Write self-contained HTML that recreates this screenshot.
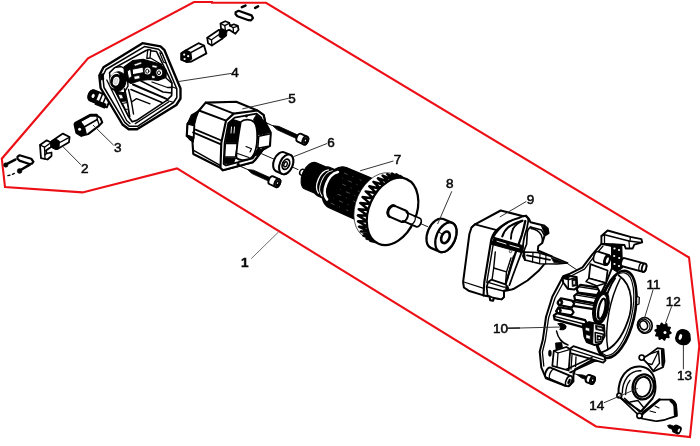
<!DOCTYPE html>
<html><head><meta charset="utf-8">
<style>
html,body{margin:0;padding:0;background:#fff;}
body{width:700px;height:446px;overflow:hidden;font-family:"Liberation Sans",sans-serif;}
svg{display:block}
.lbl{font-family:"Liberation Sans",sans-serif;font-size:13.5px;fill:#0a0a0a;stroke:#0a0a0a;stroke-width:0.55;}
.ld{stroke:#2a2a2a;stroke-width:0.95;fill:none}
.k{stroke:#000;fill:none;stroke-linejoin:round;stroke-linecap:round}
.w{stroke:#000;fill:#fff;stroke-linejoin:round;stroke-linecap:round}
.b{fill:#000;stroke:#000;stroke-linejoin:round}
.g{stroke:#fff;fill:none;stroke-linecap:round}
</style></head><body>
<svg width="700" height="446" viewBox="0 0 700 446">
<defs><filter id="bl" x="-2%" y="-2%" width="104%" height="104%"><feGaussianBlur stdDeviation="0.32"/></filter></defs>
<rect width="700" height="446" fill="#fff"/>
<path d="M194 2 L212 2 L212 2.8 L266 2.8 L689 257.5 L699.3 346 L690 437 L596 426.5 L177 168.4 L82.5 192.4 L5 187 L1.8 158.7 L88 58.3 Z" fill="none" stroke="#ec1016" stroke-width="2.1" stroke-linejoin="miter"/>
<g filter="url(#bl)">
<g transform="translate(391.8 211.1) rotate(23.46)">
<ellipse cx="-97.6" cy="0" rx="2.5" ry="3.1" class="w" stroke-width="1.42"/>
<path class="b" stroke-width="1.18" d="M-88.5 -14.3 L-72 -14.3 L-72 14.3 L-88.5 14.3 A8.3 14.3 0 0 1 -88.5 -14.3Z"/>
<path class="b" stroke-width="1.18" d="M-74 -15.5 L-62 -15.5 L-62 15.5 L-74 15.5 A9 15.5 0 0 1 -74 -15.5Z"/>
<path class="b" stroke-width="1.18" d="M-59 -21.8 L-8 -22.6 L-8 22.6 L-59 21.8 A14.4 21.8 0 0 1 -59 -21.8Z"/>
<path class="g" stroke-width="1.30" d="M-74.5 -12.5 A8.5 13.5 0 0 0 -74.5 12.8"/>
<path class="g" stroke-width="2.60" d="M-65 -14.3 A11 16.2 0 0 0 -64 15.2"/>
<path class="g" stroke-width="0.94" d="M-70.5 -13.5 A9 14.5 0 0 0 -70 14"/>
<path d="M-60 -16 L-16 -16" stroke="#777" stroke-width="0.59" stroke-dasharray="2 6 4 5 1 7" stroke-dashoffset="7" fill="none"/>
<path d="M-58.6 -10.5 L-16 -10.5" stroke="#777" stroke-width="0.59" stroke-dasharray="2 6 4 5 1 7" stroke-dashoffset="1.5" fill="none"/>
<path d="M-57.2 -5 L-16 -5" stroke="#777" stroke-width="0.59" stroke-dasharray="2 6 4 5 1 7" stroke-dashoffset="7" fill="none"/>
<path d="M-56.1 0.5 L-16 0.5" stroke="#777" stroke-width="0.59" stroke-dasharray="2 6 4 5 1 7" stroke-dashoffset="1.5" fill="none"/>
<path d="M-57.5 6 L-16 6" stroke="#777" stroke-width="0.59" stroke-dasharray="2 6 4 5 1 7" stroke-dashoffset="7" fill="none"/>
<path d="M-58.9 11.5 L-16 11.5" stroke="#777" stroke-width="0.59" stroke-dasharray="2 6 4 5 1 7" stroke-dashoffset="1.5" fill="none"/>
<path d="M-60.2 17 L-16 17" stroke="#777" stroke-width="0.59" stroke-dasharray="2 6 4 5 1 7" stroke-dashoffset="7" fill="none"/>
<ellipse cx="-13.2" cy="0" rx="23.8" ry="34.6" fill="#fff" stroke="#000" stroke-width="0.59"/>
<path class="k" stroke-width="2.48" stroke-linejoin="miter" d="M-3.7 34.9 L3.5 33.8 L-7.9 35.7 L-0.6 33.9 L-12.2 35.3 L-4.7 33 L-16.4 33.7 L-8.6 31 L-20.4 31 L-12.2 27.9 L-23.9 27.3 L-15.4 24 L-26.9 22.8 L-18 19.2 L-29.4 17.4 L-20 13.8 L-31.1 11.5 L-21.4 8 L-32.1 5.2 L-22 1.9 L-32.4 -1.2 L-21.8 -4.3 L-31.8 -7.7 L-20.9 -10.3 L-30.5 -13.8 L-19.3 -16 L-28.5 -19.5 L-17.1 -21.1 L-25.8 -24.6 L-14.2 -25.6 L-22.6 -28.9 L-10.9 -29.2 L-18.9 -32.2 L-7.1 -31.9 L-14.8 -34.5 L-3.2 -33.5 L-10.6 -35.6 L1 -34 L-6.3 -35.5 L5.1 -33.4 L-2 -34.3"/>
<ellipse cx="0.8" cy="0" rx="23.6" ry="35.2" class="w" stroke-width="2.24"/>
<path class="w" stroke-width="2.01" d="M0 -6 L13 -6 A4 6 0 0 1 13 6 L0 6 A4 6 0 0 1 0 -6Z"/>
<path class="k" stroke-width="2.60" d="M0.6 -6 A4 6 0 0 0 0.6 6"/>
<path class="w" stroke-width="1.77" d="M14 -4.6 L28.5 -4.6 A3 4.6 0 0 1 28.5 4.6 L14 4.6 A3 4.6 0 0 0 14 -4.6Z"/>
<path class="k" stroke-width="1.30" d="M22 -4.6 A3 4.6 0 0 1 22 4.6"/>
<path class="k" stroke-width="0.94" d="M31.5 0 L39 0"/>
</g>
<g transform="translate(445.9 237.3) rotate(23.46)">
<path class="w" stroke-width="2.24" d="M-9.6 -15.7 L0 -15.7 A9.4 15.7 0 0 1 0 15.7 L-9.6 15.7 A9.4 15.7 0 0 1 -9.6 -15.7Z"/><ellipse cx="0" cy="0" rx="9.4" ry="15.7" class="w" stroke-width="2.24"/>
<ellipse cx="-0.4" cy="0.2" rx="3.9" ry="6.1" class="w" stroke-width="2.60"/>
<path class="k" stroke-width="0.94" d="M-9 -2 L-4.5 -1.5"/>
</g>
<g transform="translate(286.2 164.4) rotate(23.46)">
<path class="k" stroke-width="0.94" d="M-27 0 L-14 0 M7 0 L13 0"/>
<path class="w" stroke-width="2.01" d="M-6.5 -10.3 L0 -10.3 A6.4 10.3 0 0 1 0 10.3 L-6.5 10.3 A6.4 10.3 0 0 1 -6.5 -10.3Z"/><ellipse cx="0" cy="0" rx="6.4" ry="10.3" class="w" stroke-width="2.01"/>
<ellipse cx="-0.3" cy="0" rx="3.4" ry="5.3" class="w" stroke-width="1.77"/>
<ellipse cx="-0.6" cy="0.2" rx="1.6" ry="2.6" class="w" stroke-width="1.42"/>
</g>
<g transform="translate(272.5 125.6) rotate(24.4)">
<path class="k" stroke-width="0.94" d="M-7 0 L0 0"/>
<path class="b" stroke-width="0.71" d="M0 0 L6 -1.9 L29.5 -1.9 L29.5 1.9 L6 1.9 Z"/>
<path class="w" stroke-width="1.89" d="M29.5 -4.3 L36 -4.3 A2.6 4.3 0 0 1 36 4.3 L29.5 4.3 A2.6 4.3 0 0 1 29.5 -4.3Z"/><ellipse cx="36" cy="0" rx="2.6" ry="4.3" class="w" stroke-width="1.89"/>
<ellipse cx="36.2" cy="0" rx="1.9" ry="3.2" class="b" stroke-width="0.59"/>
<ellipse cx="36.2" cy="0" rx="0.6" ry="1" fill="#fff"/>
</g><g transform="translate(247.3 169.4) rotate(24.4)">
<path class="k" stroke-width="0.94" d="M-7 0 L0 0"/>
<path class="b" stroke-width="0.71" d="M0 0 L6 -1.9 L26.5 -1.9 L26.5 1.9 L6 1.9 Z"/>
<path class="w" stroke-width="1.89" d="M26.5 -4.3 L33 -4.3 A2.6 4.3 0 0 1 33 4.3 L26.5 4.3 A2.6 4.3 0 0 1 26.5 -4.3Z"/><ellipse cx="33" cy="0" rx="2.6" ry="4.3" class="w" stroke-width="1.89"/>
<ellipse cx="33.2" cy="0" rx="1.9" ry="3.2" class="b" stroke-width="0.59"/>
<ellipse cx="33.2" cy="0" rx="0.6" ry="1" fill="#fff"/>
</g>
<g>
<path class="w" stroke-width="2.12" d="M205.7 102.6 L236.2 101.7 L257.4 110.5 L263.7 115.2 L265.2 122.3 L270.7 132.5 L270 145.8 L262.9 149.7 L255 160 L252.7 162.3 L222.8 170.2 L220.5 167.8 L193.3 154 L192.4 140.7 L186.7 136 L187.6 123.6 L193 117 L199 110.5Z" />
<path class="b" stroke-width="1.18" d="M199 110.5 L191.4 115 L187.6 123.6 L194.3 125.5 L196.2 117.9Z" />
<path class="w" stroke-width="1.89" d="M187.6 123.6 L194.3 125.5 L193.7 137.9 L186.9 135.4Z" />
<path class="b" stroke-width="1.18" d="M186.9 135.4 L193.7 137.9 L193.3 141.9 L189.5 139.4Z" />
<path class="k" stroke-width="1.89" d="M205.7 102.6 L233.8 113.6" />
<path class="k" stroke-width="1.89" d="M199 110.5 L226 120.7" />
<path class="k" stroke-width="1.77" d="M195.5 129.6 L222.6 141" />
<path class="k" stroke-width="1.77" d="M193 132.4 L221.6 144.6" />
<path class="k" stroke-width="1.53" d="M193.6 150.3 L220.6 165.6" />
<path class="w" stroke-width="2.12" d="M233.8 113.6 L257.4 110.5 L263.7 115.2 L265.2 122.3 L262.9 149.7 L255 160 L252.7 162.3 L222.8 170.2 L220.5 167.8 L221.3 142.7 L226 120.7Z" />
<path class="w" stroke-width="1.77" d="M234.6 117.6 L256.6 113.6 L261.3 117.6 L262.1 122.3 L260 147 L252.7 158.4 L226 165.4 L223.6 163.9 L224.6 142.7 L228.3 123.1Z" />
<path class="b" stroke-width="0.94" d="M228.6 123.5 L233 119.5 L240.5 121.8 L238 142.5 L225.6 142.6Z" />
<path class="w" stroke-width="1.42" d="M225.4 143.6 L237.6 143.6 L235.5 157 L224.6 156.6Z" />
<path class="b" stroke-width="0.94" d="M224.4 157.6 L235.5 158 L233.5 163.2 L224.6 163.6Z" />
<path class="g" stroke-width="0.94" d="M231.5 127 L231 133 M234.5 127 L234 133"/>
<path class="b" stroke-width="0.94" d="M253.5 119.5 L256.5 114.5 L265 121.5 L270.7 132.5 L258.5 135 L256 126Z" />
<path class="w" stroke-width="1.53" d="M258.7 136.2 L270.6 133.8 L269.6 146 L257.8 148.2Z" />
<path class="b" stroke-width="0.94" d="M257 149.5 L263 149 L259 154.5 L254.5 156Z" />
<path class="w" stroke-width="1.77" d="M240.8 122 C244 118.5 251 119 254 122 C258.5 127 258.5 148 252.5 156.5 C250 160 240 161.5 236.5 158 C236 150 238.5 135 240.8 122Z"/>
<path class="k" stroke-width="1.18" d="M237.5 153.5 L249 157.5 M246 146.5 L251.5 148.8 L250 152"/>
<circle cx="246.4" cy="116" r="1.3" class="b" stroke-width="0.35"/><circle cx="238.2" cy="164.3" r="1.3" class="b" stroke-width="0.35"/>
</g>
<g>
<g transform="translate(101.5 99.3) rotate(22)">
<path class="w" stroke-width="1.89" d="M-10 -5.5 L8 -5.5 L8 5.5 L-10 5.5 A3.5 5.5 0 0 1 -10 -5.5Z"/>
<path class="b" stroke-width="1.18" d="M-10.5 -5.5 L-5 -5.5 L-5 5.5 L-10.5 5.5 A3.5 5.5 0 0 1 -10.5 -5.5Z"/>
<ellipse cx="-9" cy="0" rx="1.5" ry="2.2" fill="#fff"/>
<path class="k" stroke-width="1.53" d="M-1 -5.5 L-1 5.5 M3 -5.5 L3 5.5"/>
<path class="b" stroke-width="1.18" d="M-4 3 L6 3 L6 7 L-4 7Z"/>
</g>
<path class="w" stroke-width="2.36" d="M142.5 43.2 L160.5 46.3 L164.5 50.2 L180.5 88.5 L180.5 98.5 L176.3 105 L137 129.3 L128.7 129.3 L122.5 124.5 L100.6 88 L99.3 75.5 L103.5 67.3Z" />
<path class="k" stroke-width="1.53" d="M144.5 46.6 L158.5 49.3 L161.5 52.2 L176.8 89 L176.8 97.5 L173.5 102.5 L137.5 126.3 L129.5 126.3 L124.8 122.3 L104 87.5 L102.8 76 L106 69.5Z" />
<path class="w" stroke-width="1.65" d="M146.5 50.3 L156.5 51.5 L172 83 L171.6 95.6 L166.4 100.6 L136.7 120.4 L132.2 121.8 L128.8 117 L110.6 82 L109.6 72.8 L114.9 67.6Z" />
<path class="k" stroke-width="1.30" d="M106.8 80 L126.6 120.5 L130 123.6" />
<path class="k" stroke-width="1.30" d="M135.3 123.6 L168.6 102" />
<path class="w" stroke-width="1.18" d="M159.8 52.8 L162.2 53.8 L166 63 L163.6 62.2Z" />
<path class="k" stroke-width="1.18" d="M171.3 86.5 L176.6 88.5" />
<path class="k" stroke-width="1.18" d="M167 100.5 L173.3 102.3" />
<path class="w" stroke-width="1.42" d="M109.6 72.8 L114.9 67.6 L121 66.5 L127 70 L128 86 L124 93 L115.5 91.5 L110.6 82Z" />
<g transform="translate(117 81.2) rotate(14)">
<ellipse cx="0.8" cy="0" rx="8.2" ry="9.8" class="b" stroke-width="0.94"/>
<ellipse cx="-2.2" cy="-0.3" rx="5.4" ry="8" fill="#fff" stroke="none"/>
<ellipse cx="-0.9" cy="0.2" rx="4.6" ry="5.9" class="w" stroke-width="2.83"/>
<ellipse cx="-1.1" cy="0.3" rx="1.9" ry="3" fill="#e4e4e4" stroke="#aaa" stroke-width="0.47"/>
</g>
<path class="b" stroke-width="0.71" d="M100.3 74.5 L103.3 73.5 L103.8 79.5 L100.8 80Z" />
<path class="b" stroke-width="1.18" d="M124 67 L133 60.5 L143 59.3 L151 61.5 L160 64 L166.3 70.5 L166 77.5 L158 80.5 L150 79.5 L140 80.5 L131 83.5 L125 80Z" />
<path class="w" stroke-width="0.83" d="M127.5 71 L130.5 69 L131.8 76.5 L128.8 78.5Z" />
<path class="w" stroke-width="0.83" d="M132.5 69.2 L143 67.2 L143.6 72.6 L133 74.6Z" />
<path class="w" stroke-width="0.71" d="M134 64.2 L141 61.8 L142 63.8 L135 66.2Z" />
<path class="w" stroke-width="0.71" d="M134 76.3 L139.5 75.3 L140 78.6 L134.6 79.6Z" />
<ellipse cx="147.6" cy="71" rx="3.6" ry="4.1" class="w" stroke-width="1.06"/>
<ellipse cx="147.3" cy="71.2" rx="1.6" ry="2" class="k" stroke-width="0.94"/>
<ellipse cx="159.3" cy="72.6" rx="3.5" ry="4" class="w" stroke-width="1.06"/>
<ellipse cx="159" cy="72.8" rx="1.5" ry="1.9" class="k" stroke-width="0.94"/>
<path class="w" stroke-width="0.71" d="M152.5 64.8 L157.5 66 L156.5 68.3 L152 67.3Z" />
<path class="w" stroke-width="0.71" d="M151.8 75.5 L155 76 L155 78.6 L151.8 78.2Z" />
<path class="k" stroke-width="1.30" d="M150.5 58 L161.5 64.5" />
<path class="w" stroke-width="1.30" d="M147.8 49.5 L150.8 49.8 L150 58 L146.8 58.5Z" />
<path class="k" stroke-width="1.77" d="M124.5 89 L127.5 103 L129.6 116.5" />
<path class="k" stroke-width="1.42" d="M128.5 89.5 L131.5 102 L133.5 114" />
<path class="k" stroke-width="2.01" d="M133 84.5 L166.5 98.8" />
<path class="k" stroke-width="1.65" d="M131 89.5 L162 102.5" />
<path class="k" stroke-width="1.42" d="M140 80.5 L163 92 L171.6 93" />
<path class="k" stroke-width="1.30" d="M152 82 L167.5 87.5 L171.8 87.5" />
<path class="k" stroke-width="1.30" d="M166 78 L171.5 83" />
<path class="k" stroke-width="1.30" d="M131.5 102 L136.5 98.6 L150 103.8" />
<path class="b" stroke-width="0.94" d="M115.5 91.5 L124 93 L127 101 L120.5 101.5Z" />
<path class="w" stroke-width="0.71" d="M118.5 94.3 L122.3 95 L123.3 98.6 L120 98.8Z" />
<path class="w" stroke-width="1.06" d="M122.5 103.5 L127 102.5 L128.3 109 L125.5 109.5Z" />
</g>
<g>
<path class="w" stroke-width="2.01" d="M74.5 124.2 L89.9 115.6 L96.7 115.4 L100.4 118 L102.3 122.3 L99.2 125.6 L88.1 134.1 L81.3 135.9 L76.4 132.8Z" />
<path class="b" stroke-width="0.94" d="M74.5 124.2 L80.5 121.2 L84.6 126.7 L86.3 133.6 L81.3 135.9 L76.4 132.8Z" />
<circle cx="79.6" cy="129.2" r="1.5" fill="#fff"/>
<path class="k" stroke-width="2.83" d="M75.5 123.2 L90.2 115.2 L96.5 115.2" />
<path class="k" stroke-width="1.65" d="M84.6 126.7 L97.3 119.5" />
<path class="k" stroke-width="1.30" d="M97.3 119.5 L96.9 115.6" />
<path class="k" stroke-width="1.30" d="M97.3 119.5 L99.3 125.2" />
<path class="w" stroke-width="1.77" d="M52 141 L62.9 133.6 L69.6 137 L69 142.2 L57.5 149 L52 146Z" />
<path class="k" stroke-width="1.30" d="M57 144 L68.8 137.6" />
<path class="b" stroke-width="0.94" d="M50.5 141.5 L55.5 138.8 L59.5 141.3 L59 147.8 L56 149.8 L50.5 147Z" />
<path class="w" stroke-width="1.77" d="M40 145 L46.7 140.3 L51 142.5 L51 147 L46 150.5 L46.5 153.5 L51.5 152.5 L51.5 156 L47.5 159.5 L41 158.2Z" />
<path class="k" stroke-width="1.30" d="M40 145 L44.5 147.2 L50.8 142.8" />
<path class="k" stroke-width="1.30" d="M44.5 147.2 L45 159" />
<path class="k" stroke-width="1.18" d="M46.2 153.6 L45 155" />
<path class="w" stroke-width="2.24" d="M17.6 156.6 L19.6 155.3 L31.2 158.8 L33.4 161.6 L32 163.6 L29.5 164 L19.3 160.6 L17.4 158.6Z" />
<path class="k" stroke-width="2.60" d="M15.3 159.6 L7.5 163.6"/>
<circle cx="5.8" cy="165" r="2.2" class="b" stroke-width="0.59"/>
<path class="k" stroke-width="2.60" d="M29.8 164.6 L21.5 169.5"/>
<circle cx="19.6" cy="171" r="2.4" class="b" stroke-width="0.59"/>
<path class="k" stroke-width="1.30" d="M7.9 175.6 L10 175.1 M12.4 174.3 L14.4 173.4"/>
<path class="w" stroke-width="1.89" d="M181.3 53.4 L186 50.2 L198.5 43.2 L204 45.5 L206.4 53.4 L191.5 61.5 L186.8 62 L181.3 59.7Z" />
<path class="b" stroke-width="1.42" d="M181.3 53.4 L186 50.2 L190.7 52.6 L191.5 58.9 L186.8 62 L181.3 59.7Z" />
<circle cx="184.2" cy="54.6" r="1.1" fill="#fff"/><circle cx="188.2" cy="56.2" r="1.1" fill="#fff"/><circle cx="184.6" cy="59" r="1.1" fill="#fff"/>
<path class="k" stroke-width="1.53" d="M190.7 52.6 L204 45.5" />
<path class="w" stroke-width="1.77" d="M207.2 37.7 L219 29.8 L223 31.5 L222.5 38.5 L211.9 45.5 L208 43.2Z" />
<path class="k" stroke-width="1.30" d="M207.2 37.7 L211.5 39.8 L222.6 32" />
<path class="k" stroke-width="1.30" d="M211.5 39.8 L211.9 45.5" />
<path class="b" stroke-width="0.94" d="M219.5 30 L224 27.5 L227 30 L226.5 36 L222.3 38.8 L219 36.5Z" />
<path class="w" stroke-width="1.77" d="M220.5 23.5 L225.2 21.2 L229.2 22.8 L230 25.9 L233.9 24.3 L237.8 25.9 L238.6 29.8 L235.4 33.8 L233 32.2 L229.2 29.8 L226 31 L221 28.5Z" />
<path class="k" stroke-width="1.30" d="M220.5 23.5 L224.8 25.6 L229.4 23.2" />
<path class="k" stroke-width="1.30" d="M224.8 25.6 L225.4 30.6" />
<path class="k" stroke-width="1.30" d="M230 25.9 L233.2 27.6 L238 26.2" />
<path class="k" stroke-width="1.30" d="M233.2 27.6 L233.4 32.2" />
<path class="w" stroke-width="2.24" d="M235.6 12.2 L238.6 10.8 L251.5 15.4 L253 18 L251 20.4 L248.6 20.2 L237.4 16.3 L235.6 14.2Z" />
<path class="k" stroke-width="2.60" d="M241.9 7.1 L245.4 5.6 M255.2 7.8 L258 6.4"/>
</g>
<g>
<path class="k" stroke-width="0.94" d="M566 262.6 L577.5 270.3"/>
<path class="w" stroke-width="2.01" d="M469.4 234 L471.5 227.5 L475 224.3 L500.7 210.5 L523.4 216.3 L526 215.6 L529 219 L530.5 222.3 L543.8 225.4 L547.7 228.5 L548.5 233.2 L544.6 235.6 L542.3 243 L538.3 246 L537.8 250.5 L552 256.5 L553 262 L544.7 263.6 L538.4 271.1 L527.5 280.5 L513.3 289.1 L507 290.5 L503.9 291 L503.9 297 L501.6 299.3 L494 298 L493 300.8 L490.2 300.3 L489.5 296.6 L483.5 295.4 L468.6 290.7 L463.9 287.5 L463.1 282Z" />
<path class="k" stroke-width="1.77" d="M475 224.3 L496.8 230.1" />
<path class="k" stroke-width="1.53" d="M471.5 227.5 L475 224.3" />
<path class="k" stroke-width="1.30" d="M463.9 282 L483.8 288.3" />
<path class="k" stroke-width="2.12" d="M496.8 230.1 C492.5 234 491 239 490.6 243.6 L484.3 282 L483.5 295.4"/>
<path class="k" stroke-width="1.42" d="M493.2 244.5 L486.8 282.5"/>
<path class="k" stroke-width="2.12" d="M496.8 230.1 C503 224 511 220 518.7 218 C521 217 523 216 524.4 216"/>
<path class="k" stroke-width="1.89" d="M492.4 238.5 C496 232 501 226.5 507 223"/>
<path class="k" stroke-width="2.12" d="M502.3 236.4 C504 231.5 506 229 508.5 227 C513 224 518 222 522 220.7"/>
<path class="k" stroke-width="1.89" d="M510.9 238.7 C511 234 512 231 513.2 228.5 C515.5 224.8 519 222 522.6 220.8"/>
<path class="k" stroke-width="1.77" d="M524.4 216 C527 216.5 528.6 218.6 528.2 221.5 C527.5 227 526 232 524.6 236 C523.5 240 523 245 522.7 249.1 C521 254 519.5 258 518 261.7 C516 267 514.5 271 513.3 274.2 L509.4 285.2"/>
<path class="k" stroke-width="2.24" d="M525.3 221 C524.3 226 523 231 521.9 234.8 L518.7 244.2 C516.5 250 514.5 256 513.2 259.9 C511 266 509.5 271.5 508.5 274.8 L505.8 283.5"/>
<path class="b" stroke-width="1.18" d="M494.6 237.6 L523.2 245.8 L522.2 252.8 L491.2 244.2Z" />
<path class="g" stroke-width="0.94" d="M497 241.3 L506 244 M510 245.2 L519 247.8"/>
<circle cx="510.5" cy="251.5" r="1.2" fill="#fff" stroke="#000" stroke-width="0.71"/>
<path class="k" stroke-width="1.42" d="M495.3 252 L493.7 268 L492 280" />
<path class="k" stroke-width="1.42" d="M511 258 L506.5 271.9 L505.5 284.4" />
<path class="k" stroke-width="1.42" d="M493.7 268 L506.5 271.9" />
<path class="k" stroke-width="1.30" d="M513.5 256 L509.5 270 L507.5 279" />
<path class="w" stroke-width="1.77" d="M488.2 282 L491.4 279.7 L505.5 284.4 L507.8 286.8 L507 289.9 L503.9 290.7 L503.9 297 L501.6 299.3 L493 297.7 L487.5 295.4 L486.7 286.8Z" />
<path class="k" stroke-width="1.42" d="M487.5 287 L503.5 291" />
<path class="k" stroke-width="1.30" d="M488.2 282.4 L503.8 287.2 L507.2 287" />
<circle cx="507.2" cy="288.6" r="1.8" class="b" stroke-width="0.35"/>
<path class="k" stroke-width="1.53" d="M530.5 227 L541.5 230.1 L544.6 235.6" />
<path class="k" stroke-width="1.65" d="M530.5 227 C528 229 527 231 527.2 234 L526.6 244.2 L523.6 251.6"/>
<path class="k" stroke-width="1.53" d="M531 228.4 C535 229 539 231 541.2 234.8 C542.6 238 542.5 241 542.3 243"/>
<path class="b" stroke-width="0.94" d="M541.5 226 L547.5 228.5 L548.3 233 L545 235 L543.5 231Z"/>
<path class="w" stroke-width="1.65" d="M524.2 252 L537.5 252.5 L553 257 L567.6 263 L557 264 L540 263.8 L525 260Z" />
<path class="b" stroke-width="0.59" d="M551 257.5 L566 263 L554 262.8Z" />
<path class="k" stroke-width="1.77" d="M527 255.3 L550 259.8" />
<path class="k" stroke-width="1.18" d="M533 252.6 L532.5 262" />
<path class="k" stroke-width="1.18" d="M540 254 L539.6 263.4" />
<path class="k" stroke-width="1.18" d="M546 255.2 L545.6 263.4" />
<path class="k" stroke-width="1.89" d="M524.2 252 L523 256 L525 260" />
</g>
<g>
<path class="w" stroke-width="2.01" d="M601.4 243.8 L592 254.8 L582.5 267.4 L570 273.6 L563.2 276.3 L552.3 296.7 L546 317 L542.8 339.8 L539.7 351.7 L541.3 367.4 L546 378.3 L564 385.4 L568.7 386.2 L573.4 381.5 L573.4 375.5 L575 369.5 L591.5 360.5 L604 361 L606 352 L600 330 L598 300 L606 283 L612 268 L612 246Z" />
<path class="k" stroke-width="1.30" d="M603 246 L594.3 256.3 L584.5 269.2 L572 275.5 L565.5 278.5 L555 298 L548.6 318 L545.4 340 L542.4 352 L543.8 366" />
<g transform="translate(616 314.3) rotate(13)">
<ellipse cx="0" cy="0" rx="18.3" ry="44.5" class="w" stroke-width="2.60"/>
<ellipse cx="-0.8" cy="0" rx="16.4" ry="42.3" class="k" stroke-width="1.18"/>
<path class="k" stroke-width="1.77" d="M-6 -38.5 C11 -32 15 -10 13 4 C11 22 5 34 -5 40"/>
<path class="k" stroke-width="1.42" d="M-4 -35.5 C-9 -15 -9 15 0 36"/>
<path class="k" stroke-width="1.89" d="M-9 -35 C-15.5 -20 -15.5 15 -9.5 33"/>
</g>
<path class="w" stroke-width="1.30" d="M636.6 296 L639.3 297.5 L639 304 L636.6 305Z" />
<path class="w" stroke-width="1.89" d="M601.4 236 L607.6 230.5 L630.4 236.8 L641.4 239.1 L642.2 242.3 L634.3 244.6 L632.7 248.5 L625.7 248.5 L624.5 245 L601.4 243.8Z" />
<path class="k" stroke-width="1.42" d="M601.4 236 L604.5 234.8 L629 241 L640.5 242.5" />
<path class="k" stroke-width="1.30" d="M604.5 234.8 L604.5 243.5" />
<path class="k" stroke-width="1.30" d="M629 241 L629.5 248" />
<path class="k" stroke-width="1.30" d="M630.4 236.8 L630 240.8" />
<path class="b" stroke-width="0.94" d="M611.6 244 L621.8 245 L622.5 268 L617 272 L611.5 268.5Z" />
<circle cx="614.5" cy="248.5" r="1.1" fill="#fff"/>
<circle cx="619" cy="250" r="1.1" fill="#fff"/>
<circle cx="614.2" cy="256" r="1.1" fill="#fff"/>
<circle cx="619.2" cy="258" r="1.1" fill="#fff"/>
<circle cx="614.5" cy="264" r="1.1" fill="#fff"/>
<circle cx="619" cy="266" r="1.1" fill="#fff"/>
<g transform="translate(623.3 262.2) rotate(15)">
<path class="w" stroke-width="1.89" d="M0 -4.2 L21.5 -4.2 A2.1 4.2 0 0 1 21.5 4.2 L0 4.2 A2.1 4.2 0 0 1 0 -4.2Z"/><ellipse cx="21.5" cy="0" rx="2.1" ry="4.2" class="w" stroke-width="1.89"/>
<path class="k" stroke-width="1.30" d="M18.5 -4.3 A2.1 4.3 0 0 0 18.5 4.3"/>
</g>
<g transform="translate(596.5 256.8) rotate(17)">
<path class="w" stroke-width="1.65" d="M0 -5.4 L11 -5.4 A2.7 5.4 0 0 1 11 5.4 L0 5.4 A2.7 5.4 0 0 1 0 -5.4Z"/><ellipse cx="11" cy="0" rx="2.7" ry="5.4" class="w" stroke-width="1.65"/>
<ellipse cx="11" cy="0" rx="2.7" ry="5.4" class="b" stroke-width="0.94"/>
<ellipse cx="11.4" cy="0" rx="1.2" ry="3" fill="#fff"/>
</g>
<path class="w" stroke-width="1.77" d="M590.4 264.2 L607.6 270.5 L606 283 L588.8 278.3Z" />
<path class="w" stroke-width="1.42" d="M588.8 278.3 L586 281.5 L597 286 L606 283Z" />
<path class="w" stroke-width="2.01" d="M562.5 277.8 L566.4 275.5 L576.6 277.1 L577.4 287.3 L574.2 289.6 L567.9 288.8 L563.2 282.5Z" />
<path class="k" stroke-width="1.42" d="M562.5 277.8 L568.3 279.7 L576.6 277.4" />
<path class="k" stroke-width="1.42" d="M568.3 279.7 L568.3 288.8" />
<path class="b" stroke-width="0.71" d="M562.9 277.2 L566.4 275.6 L569.2 276.9 L568.6 279.4 L563.5 278.8Z" />
<path class="b" stroke-width="0.71" d="M571.9 279.4 L576.1 278.6 L576.4 285.7 L572.3 286.6Z" />
<path class="w" stroke-width="0.59" d="M573.1 280.7 L575.2 280.4 L575.3 284.4 L573.3 284.9Z" />
<path class="w" stroke-width="2.24" d="M576.6 288.8 L580.5 284.9 L597 287.3 L599.3 291.2 L597 295.1 L578.1 292.7Z" />
<path class="w" stroke-width="2.24" d="M574.2 295.9 L577.7 293.2 L596.5 296.4 L598.1 300.3 L595.5 303.3 L575 299.8Z" />
<path class="w" stroke-width="2.24" d="M572.3 302.2 L575.5 300.1 L594.9 303.7 L596.2 306.9 L593.4 309.2 L573 305.8Z" />
<path class="k" stroke-width="1.30" d="M579.7 286.9 L597 289.5" />
<path class="k" stroke-width="1.30" d="M577 295.1 L596.2 298.4" />
<path class="k" stroke-width="1.30" d="M575 302 L594.6 305.6" />
<path class="w" stroke-width="2.12" d="M557.7 302.2 L560.9 298.2 L571.9 300.6 L574.2 303.7 L571.9 307.6 L560.1 305.3Z" />
<path class="b" stroke-width="0.94" d="M557 303.3 L558.5 300.3 L561.7 299.2 L562.9 302.2 L561.4 305.8 L558.5 305.8Z" />
<path class="w" stroke-width="2.12" d="M556.2 311.1 L558.5 307.3 L571.9 309.5 L573.6 312.4 L571.4 315.2 L558.5 313.1Z" />
<path class="b" stroke-width="0.94" d="M555.7 311.6 L557.3 308.6 L560.1 307.6 L561.4 310.5 L560.1 313.6 L557.3 313.9Z" />
<ellipse cx="559.8" cy="302.5" rx="0.7" ry="1.2" fill="#fff"/>
<ellipse cx="558.5" cy="310.9" rx="0.7" ry="1.2" fill="#fff"/>
<g transform="translate(600.9 307.6) rotate(12)">
<ellipse cx="0" cy="0" rx="7.8" ry="16.8" class="b" stroke-width="0.94"/>
<ellipse cx="0.3" cy="0" rx="5.2" ry="13.4" class="w" stroke-width="1.06"/>
<ellipse cx="1.2" cy="1" rx="3.2" ry="10.3" class="k" stroke-width="2.24"/>
</g>
<path class="w" stroke-width="2.24" d="M553.8 315.5 L557 313.1 L585.2 320.2 L586.8 323.3 L583.6 327.3 L554.6 319.4Z" />
<path class="k" stroke-width="1.42" d="M554.5 316.4 L583.9 324 L586.5 323.3" />
<path class="w" stroke-width="1.89" d="M582.8 324.9 L589.1 322.1 L604 325.2 L604.8 335.9 L600.9 343.4 L594.6 345 L586.8 342.2 L584.4 336.7Z" />
<path class="b" stroke-width="0.94" d="M582.8 324.9 L589.1 322.1 L593.4 323 L592.7 343.7 L586.8 342.2 L584.4 336.7Z" />
<path class="w" stroke-width="0.59" d="M585.5 327.3 L589.6 328.2 L589.6 331.5 L585.5 330.5Z" />
<path class="w" stroke-width="0.59" d="M586.1 334.6 L590.2 335.7 L590.2 339.3 L586.1 338.2Z" />
<path class="b" stroke-width="0.71" d="M595.4 325.2 L604 327.1 L604.3 331.5 L595.9 329.6Z" />
<path class="w" stroke-width="0.59" d="M597.1 326.8 L602.1 327.9 L602.3 329.9 L597.3 328.8Z" />
<path class="w" stroke-width="1.53" d="M595.2 332.4 L603.4 334.3 L601.8 341.5 L595.5 342.5Z" />
<path class="b" stroke-width="0.71" d="M597.1 335.1 L601.5 336.2 L600.9 340 L597.1 340.3Z" />
<circle cx="599.2" cy="337.9" r="1" fill="#fff"/>
<path class="b" stroke-width="1.18" d="M558 323.8 C561 322.8 565 324 566 326.5 C566 329 563 330.4 560 329.4 C561.5 327.5 560.5 325.5 558 323.8Z"/>
<path class="k" stroke-width="1.42" d="M556.5 331 C558 338 562 343 568 345"/>
<path class="w" stroke-width="1.77" d="M570.3 348.5 L573.4 346.2 L604 356.4 L605.6 360.3 L603.2 362.6 L589.9 358.7 L570.3 353.2Z" />
<path class="k" stroke-width="1.30" d="M571 349.3 L602.8 359.6 L605.3 359.8" />
<path class="w" stroke-width="1.77" d="M553.8 350.9 L566.4 347 L570.3 349.3 L568.7 370.5 L552.3 365.8Z" />
<path class="k" stroke-width="1.30" d="M553.8 350.9 L558 353 L570.3 349.3" />
<path class="k" stroke-width="1.30" d="M558 353 L557 367" />
<path class="b" stroke-width="0.71" d="M555.4 343 L561.7 342.3 L562.5 347.5 L556 349.5Z" />
<ellipse cx="549.9" cy="353.2" rx="1.5" ry="3.2" class="b" stroke-width="0.47"/>
<path class="k" stroke-width="1.53" d="M566 369.5 L592 357.5" />
<path class="k" stroke-width="1.53" d="M570 372.5 L596 360.5" />
<path class="k" stroke-width="1.30" d="M572 355 L571 369" />
<path class="k" stroke-width="1.30" d="M576 357 L575.5 366.5" />
<g transform="translate(548.5 372.6) rotate(22.5)">
<path class="w" stroke-width="1.89" d="M0 -5.4 L22 -5.4 A2.8 5.4 0 0 1 22 5.4 L0 5.4 A2.8 5.4 0 0 1 0 -5.4Z"/>
<ellipse cx="22" cy="0" rx="2.8" ry="5.4" class="w" stroke-width="1.65"/>
<ellipse cx="22.4" cy="0.3" rx="1.2" ry="2.8" class="b" stroke-width="0.35"/>
<path class="k" stroke-width="1.42" d="M4.5 -5.4 A2.8 5.4 0 0 0 4.5 5.4"/>
</g>
</g>
<g transform="translate(576.5 374.4) rotate(20)">
<path class="k" stroke-width="0.94" d="M-7 0 L0 0"/>
<path class="b" stroke-width="0.71" d="M0 0 L6 -1.6 L12.5 -1.6 L12.5 1.6 L6 1.6 Z"/>
<path class="w" stroke-width="1.89" d="M12.5 -3.9 L17 -3.9 A2.3 3.9 0 0 1 17 3.9 L12.5 3.9 A2.3 3.9 0 0 1 12.5 -3.9Z"/><ellipse cx="17" cy="0" rx="2.3" ry="3.9" class="w" stroke-width="1.89"/>
<ellipse cx="17.2" cy="0" rx="1.8" ry="2.9" class="b" stroke-width="0.59"/>
<ellipse cx="17.2" cy="0" rx="0.6" ry="1" fill="#fff"/>
</g>
<g>
<ellipse cx="644.9" cy="325.4" rx="7.3" ry="7.9" class="w" stroke-width="1.65" transform="rotate(-20 644.8 325.6)"/>
<ellipse cx="644.2" cy="325.8" rx="5.9" ry="6.6" class="k" stroke-width="1.18" transform="rotate(-20 644 325.9)"/>
<ellipse cx="643.7" cy="325.3" rx="3.8" ry="4.6" class="w" stroke-width="1.65" transform="rotate(-20 643.6 325.4)"/>
<path class="b" stroke-width="1.89" d="M670.8 332.8 L668.1 334.2 L668.7 337.4 L665.7 336.9 L664.4 339.8 L662.2 337.5 L659.5 339.1 L659 335.9 L656 335.5 L657.4 332.6 L655.2 330.4 L657.9 329 L657.3 325.8 L660.3 326.3 L661.6 323.4 L663.8 325.7 L666.5 324.1 L667 327.3 L670 327.7 L668.6 330.6Z" />
<circle cx="665" cy="332.6" r="1.5" fill="#fff"/>
<path class="b" stroke-width="1.18" d="M676.6 334.5 C677 331 680.5 329.3 684 329.8 C687.5 330.3 690.2 333 690 336.5 L690.3 340 C689.2 343.3 686 345 682.6 344.6 C678.6 344.3 675.6 341.3 675.6 338Z"/>
<ellipse cx="680.4" cy="337" rx="1.6" ry="3" fill="#fff" transform="rotate(18 680.4 337)"/>
</g>
<g>
<path class="w" stroke-width="1.77" d="M643 412 L659.5 399.6 L670.6 399.6 C674 401 676 403.5 676.2 406 L676.9 415.8 L670.6 417.8 C665 420.5 659 421.3 654.4 420.9 L641.5 418.5Z"/>
<path class="k" stroke-width="3.54" d="M671.2 400.6 C673.8 402 675 404 675.2 406.5 L675.6 414.8"/>
<path class="k" stroke-width="2.60" d="M641 415 L659.5 399.6"/>
<path class="k" stroke-width="1.18" d="M650 411 L655.5 412.5 M655 406 L659 408"/>
<path class="w" stroke-width="1.77" d="M642.5 358.5 L649.4 354.2 L657.5 348.1 L663.5 349.1 L664.5 361.3 L663 367.3 L653.5 371.4 L647.4 363.3Z" />
<path class="k" stroke-width="1.42" d="M649.4 354.2 L658.5 351.2 L659.5 363.3 L653.5 370.4" />
<path class="k" stroke-width="1.30" d="M647.4 363.3 L652 364.5 L658.5 351.2" />
<path class="k" stroke-width="2.60" d="M662.2 350.5 L662.8 365.5"/>
<path class="w" stroke-width="2.01" d="M618.5 393 C618.3 385.5 620.5 379 624 374.2 C628 369.3 634 366 640.5 366.6 C648 367.2 654 373 655 381.5 C656 388 655.5 394 652.5 398.5 L641 411.5 L621.5 398.5Z"/>
<path class="k" stroke-width="1.42" d="M622.3 393 C622.3 386.5 624.3 381 627.3 377 C630.8 372.8 635.8 370.4 641 370.8"/>
<path class="k" stroke-width="1.30" d="M625.6 394.5 C625.6 389 627 384 630 380.3"/>
<ellipse cx="643.3" cy="386.9" rx="10.6" ry="12.6" class="w" stroke-width="2.36" transform="rotate(12 643.3 386.9)"/>
<ellipse cx="642.9" cy="386.9" rx="7.8" ry="10.1" class="w" stroke-width="1.89" transform="rotate(12 642.9 386.9)"/>
<path class="k" stroke-width="1.65" d="M621 398.5 L637.3 413.8" />
<path class="k" stroke-width="1.42" d="M624.5 398.2 L639.5 411.8" />
<path class="k" stroke-width="1.30" d="M630 402 L638 400.5 L644 408" />
<circle cx="619.3" cy="395.6" r="2.4" class="w" stroke-width="1.65"/>
<circle cx="641.7" cy="357.6" r="2.6" class="w" stroke-width="1.65"/>
<circle cx="639.5" cy="415.8" r="2.6" class="w" stroke-width="1.65"/>
</g>
<g transform="translate(667.5 425.5) rotate(23)">
<path class="b" stroke-width="0.71" d="M0 0 L2 -1.6 L8.5 -1.9 L8.5 1.9 L2 1.6Z"/>
<path class="b" stroke-width="1.18" d="M8.5 -3.8 L12 -3.8 A2.3 3.8 0 0 1 12 3.8 L8.5 3.8 A2.3 3.8 0 0 1 8.5 -3.8Z"/>
<ellipse cx="12.3" cy="0" rx="1" ry="2" fill="#fff"/>
</g>
</g>
<g class="ld">
<path d="M251.2 258.7 L278.7 231.8" stroke="#666"/>
<path d="M62.8 146.5 L80.9 164.8"/>
<path d="M93 125 L113.6 145.2"/>
<path d="M177.5 81.7 L231.5 73.4"/>
<path d="M242.3 108.9 L288.6 98.3"/>
<path d="M293.8 156.6 L327 143.5"/>
<path d="M360.1 170.8 L393.4 161"/>
<path d="M437.6 224 L451.8 191.3"/>
<path d="M499.8 217 L526.4 201.4"/>
<path d="M507.5 328.3 L561 327"/><path d="M507.5 328.3 L520 328" stroke-width="1.6"/>
<path d="M653.2 289.4 L644.3 318.9"/>
<path d="M671.6 306.4 L665.4 323.6"/>
<path d="M683.4 345 L683.4 369.3"/>
<path d="M603.8 402.8 L637.7 388.4"/>
</g>
<g class="lbl">
<text x="241" y="267.3" font-weight="bold">1</text>
<text x="81" y="173.4">2</text>
<text x="114" y="152.3">3</text>
<text x="231.2" y="77.1">4</text>
<text x="288.2" y="102.5">5</text>
<text x="327.2" y="147.3">6</text>
<text x="393.7" y="164.3">7</text>
<text x="446" y="188.3">8</text>
<text x="526.7" y="203.6">9</text>
<text x="493" y="332.6">10</text>
<text x="646.6" y="288.6">11</text>
<text x="665.8" y="305.5">12</text>
<text x="677" y="380">13</text>
<text x="589.3" y="410.4">14</text>
</g>
</svg>
</body></html>
